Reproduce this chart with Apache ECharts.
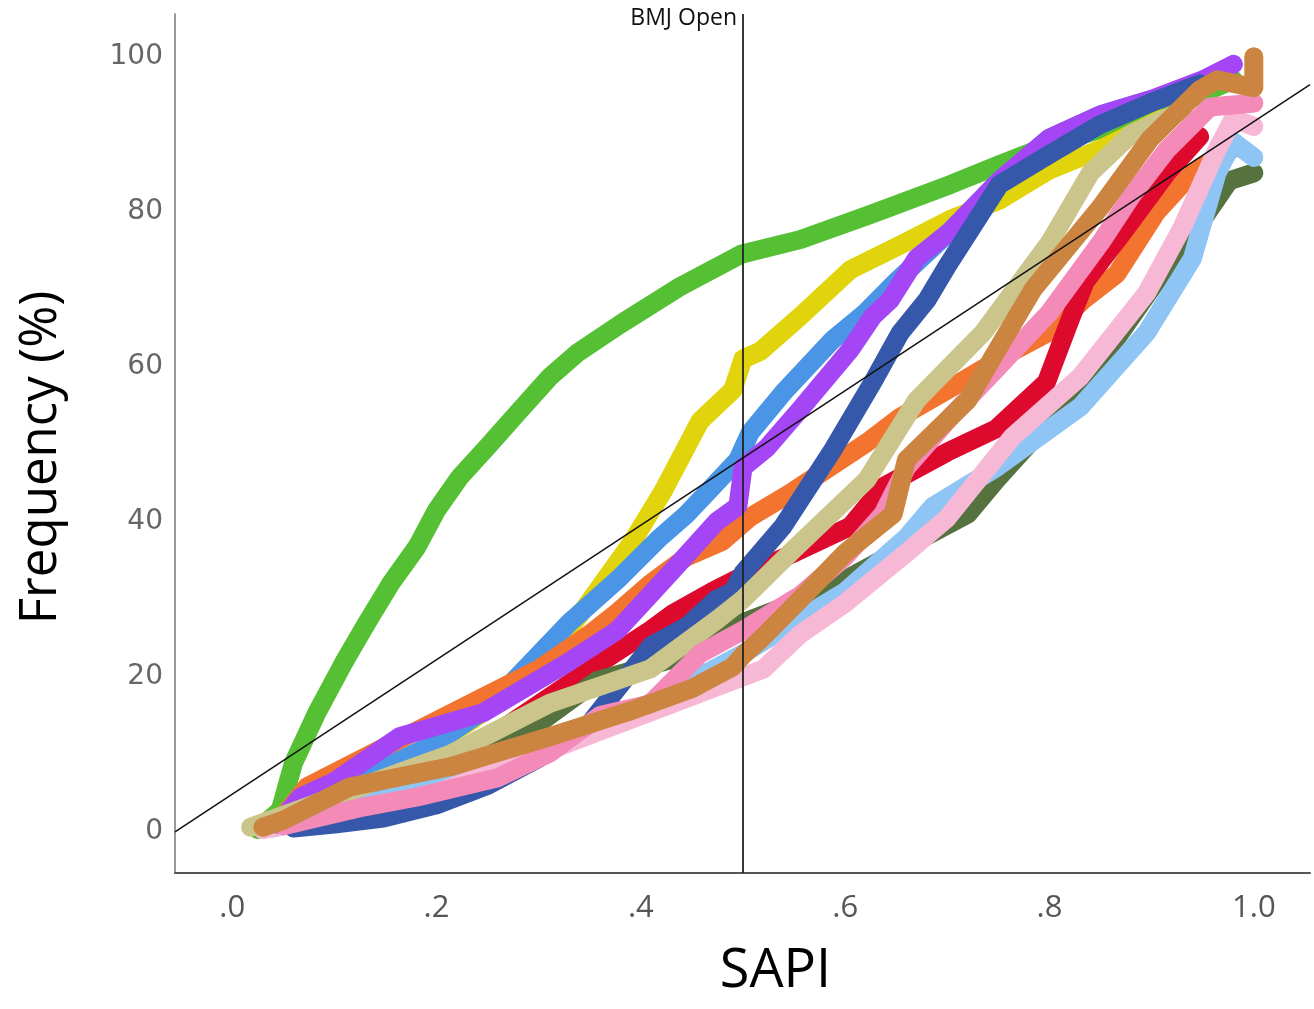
<!DOCTYPE html>
<html>
<head>
<meta charset="utf-8">
<script src="https://cdn.jsdelivr.net/npm/echarts@6/dist/echarts.min.js"></script>
<style>html,body{margin:0;padding:0;background:#fff}#c{width:1314px;height:1009px}</style>
</head>
<body>
<div id="c"></div>
<script>
// ---- data (SAPI, Frequency %) ----
const xTicks = [0, 0.2, 0.4, 0.6, 0.8, 1.0];
const yTicks = [0, 20, 40, 60, 80, 100];
const refLineX = [-0.056, 1.055];
const refLineY = [0, 96.4];
const cutoffX = 0.5;

const green = [[0.025,0.3],[0.047,2.8],[0.06,8.9],[0.083,15.4],[0.109,21.8],[0.132,27],[0.155,32],[0.181,36.8],[0.2,41.5],[0.223,45.8],[0.25,49.7],[0.279,54],[0.311,58.7],[0.338,61.8],[0.38,65.5],[0.438,70.3],[0.498,74.5],[0.556,76.4],[0.624,79.6],[0.703,83.5],[0.75,86],[0.8,88.6],[0.849,90.6],[0.898,92.5],[0.947,95.1],[0.98,97]];
const yellow = [[0.05,2],[0.1,5],[0.18,10],[0.23,14],[0.279,18.5],[0.311,23],[0.343,28.5],[0.392,37.5],[0.422,44],[0.458,53],[0.49,57],[0.5,61],[0.517,62],[0.556,66.5],[0.605,72.5],[0.654,75.7],[0.703,79],[0.751,81.5],[0.8,85.4],[0.849,88],[0.898,91.2],[0.91,92]];
const medBlue = [[0.06,3],[0.12,6.5],[0.2,11.5],[0.25,16],[0.29,21.5],[0.33,27],[0.377,32.5],[0.419,38],[0.445,41],[0.47,44.5],[0.495,48],[0.507,51.5],[0.539,56.6],[0.588,63.5],[0.62,67],[0.65,71],[0.703,77.5],[0.751,84],[0.8,89.5],[0.85,92.5],[0.9,94.5],[0.94,96]];
const orange = [[0.05,2],[0.073,5.8],[0.15,11],[0.246,17.4],[0.3,21],[0.35,25.5],[0.377,28.3],[0.409,32],[0.445,35.5],[0.48,37.5],[0.507,40.6],[0.55,44],[0.621,50.2],[0.654,53.5],[0.7,57],[0.764,62],[0.8,64.5],[0.833,68.6],[0.866,72],[0.905,80],[0.94,85],[0.978,88]];
const red = [[0.05,1.5],[0.15,5.5],[0.25,12],[0.36,21.8],[0.409,26],[0.432,28.2],[0.47,31],[0.5,33],[0.55,36],[0.605,39.4],[0.637,44.5],[0.7,49],[0.748,52],[0.797,58],[0.82,66],[0.835,71],[0.87,77],[0.915,85],[0.947,89.7]];
const olive = [[0.03,0.5],[0.1,2.5],[0.2,6.5],[0.246,11],[0.3,14],[0.357,19.5],[0.45,23],[0.5,27],[0.55,29.5],[0.6,32.5],[0.66,36.8],[0.72,41],[0.748,45.4],[0.8,53],[0.862,63],[0.915,73],[0.95,79],[0.976,84],[1.0,85]];
const skyBlue = [[0.04,0.5],[0.1,2.5],[0.2,6],[0.3,11],[0.4,16],[0.5,23],[0.6,31],[0.66,38],[0.686,42],[0.748,47],[0.83,54.8],[0.895,64.4],[0.94,74],[0.964,85],[0.98,89],[1.0,87]];
const lightPink = [[0.03,0.3],[0.1,2],[0.2,5],[0.3,10],[0.4,15],[0.52,21],[0.556,25.5],[0.6,29.5],[0.66,36],[0.7,40.5],[0.764,51],[0.83,58.7],[0.895,69.5],[0.93,78],[0.964,88],[0.98,92],[1.0,91]];
const purple = [[0.045,1],[0.067,4.5],[0.1,6.5],[0.164,12.3],[0.246,15.4],[0.328,21.8],[0.377,26],[0.426,33],[0.474,40],[0.495,42],[0.5,47],[0.523,49.5],[0.556,54.5],[0.605,62.2],[0.627,66.5],[0.644,68.6],[0.67,74],[0.703,77.5],[0.751,84],[0.8,89.5],[0.85,92.5],[0.9,94.5],[0.95,97],[0.98,99]];
const darkBlue = [[0.06,0.5],[0.1,1],[0.148,1.8],[0.2,3.5],[0.25,6],[0.3,9.5],[0.35,14],[0.41,24],[0.445,26.5],[0.474,30],[0.49,31],[0.5,33.4],[0.539,39.4],[0.588,49.3],[0.627,58],[0.654,64.4],[0.68,68.6],[0.7,73],[0.751,83.5],[0.8,87.4],[0.849,91.2],[0.898,94],[0.947,96.5]];
const khaki = [[0.018,0.6],[0.1,4.5],[0.16,7.5],[0.213,10],[0.311,16.6],[0.409,21],[0.475,27.4],[0.5,30],[0.55,36.5],[0.621,45.4],[0.67,55.7],[0.735,64.4],[0.8,76],[0.84,85],[0.88,90],[0.93,93]];
const hotPink = [[0.05,0.8],[0.128,3.2],[0.181,4.5],[0.26,7],[0.311,10.2],[0.36,15],[0.409,16.5],[0.458,23],[0.5,26],[0.556,30.5],[0.6,35.5],[0.637,41],[0.66,47],[0.703,53.5],[0.75,60],[0.8,67],[0.85,76],[0.88,82],[0.915,88],[0.957,93.5],[1.0,94]];
const brown = [[0.03,0.6],[0.05,1.5],[0.115,5.8],[0.213,8.4],[0.311,12.3],[0.392,15.7],[0.45,18.5],[0.49,21.3],[0.5,22.8],[0.517,24.8],[0.556,30],[0.6,36],[0.647,41],[0.66,48],[0.72,55.7],[0.748,62],[0.784,70],[0.85,80.6],[0.898,89.3],[0.947,95.7],[0.964,97],[1.0,96],[1.0,100]];

const groups = [
  ['green', green, '#55c033'],
  ['yellow', yellow, '#e2d40c'],
  ['medBlue', medBlue, '#4b95e6'],
  ['orange', orange, '#f2742e'],
  ['red', red, '#de0a2e'],
  ['olive', olive, '#56733f'],
  ['skyBlue', skyBlue, '#8ec5f5'],
  ['lightPink', lightPink, '#f7b8d6'],
  ['purple', purple, '#a446f5'],
  ['darkBlue', darkBlue, '#3658ab'],
  ['khaki', khaki, '#cbc58c'],
  ['hotPink', hotPink, '#f48ab8'],
  ['brown', brown, '#cc8540']
];

const series = groups.map(([name, data, color]) => ({
  name, type: 'line', data, showSymbol: false, symbol: 'none', silent: true,
  lineStyle: { color, width: 19, cap: 'round', join: 'round' },
  z: 2
}));
series.push({
  name: 'ref', type: 'line', silent: true, symbol: 'none', showSymbol: false,
  data: refLineX.map((x, i) => [x, refLineY[i]]),
  lineStyle: { color: '#111', width: 1.5 }, z: 5,
  markLine: {
    silent: true, symbol: 'none', label: { show: false },
    lineStyle: { color: '#222', width: 1.8, type: 'solid' },
    data: [{ xAxis: cutoffX }]
  }
});

const chart = echarts.init(document.getElementById('c'), null, { renderer: 'canvas' });
chart.setOption({
  animation: false,
  backgroundColor: '#fff',
  grid: { left: 175, right: 4, top: 14, bottom: 136, containLabel: false },
  xAxis: {
    type: 'value', min: -0.056, max: 1.055,
    name: 'SAPI', nameLocation: 'middle', nameGap: 72,
    nameTextStyle: { fontFamily: 'Open Sans', fontSize: 54, color: '#000', padding: [0, 0, 0, 66] },
    axisLine: { show: true, onZero: false, lineStyle: { color: '#555', width: 2 } },
    axisTick: { show: false }, splitLine: { show: false },
    axisLabel: {
      showMinLabel: false, showMaxLabel: false, margin: 20,
      fontFamily: 'Open Sans', fontSize: 31, color: '#555',
      formatter: v => xTicks.some(t => Math.abs(t - v) < 1e-6) ? (v === 0 ? '.0' : v.toFixed(1).replace(/^0/, '')) : ''
    }
  },
  yAxis: {
    type: 'value', min: -5.3, max: 105.5,
    name: 'Frequency (%)', nameLocation: 'middle', nameGap: 108,
    nameTextStyle: { fontFamily: 'Open Sans', fontSize: 51, color: '#000', padding: [0, 28, 0, 0] },
    axisLine: { show: true, onZero: false, lineStyle: { color: '#999', width: 2 } },
    axisTick: { show: false }, splitLine: { show: false },
    axisLabel: {
      showMinLabel: false, showMaxLabel: false, margin: 12,
      fontFamily: 'DejaVu Sans', fontSize: 28, color: '#666',
      formatter: v => yTicks.some(t => Math.abs(t - v) < 1e-6) ? String(Math.round(v)) : ''
    }
  },
  graphic: [{
    type: 'text', right: 1314 - 737, top: 7,
    style: { text: 'BMJ Open', font: '23px "Open Sans"', fill: '#111', textAlign: 'right' }
  }],
  series
});
</script>
</body>
</html>
